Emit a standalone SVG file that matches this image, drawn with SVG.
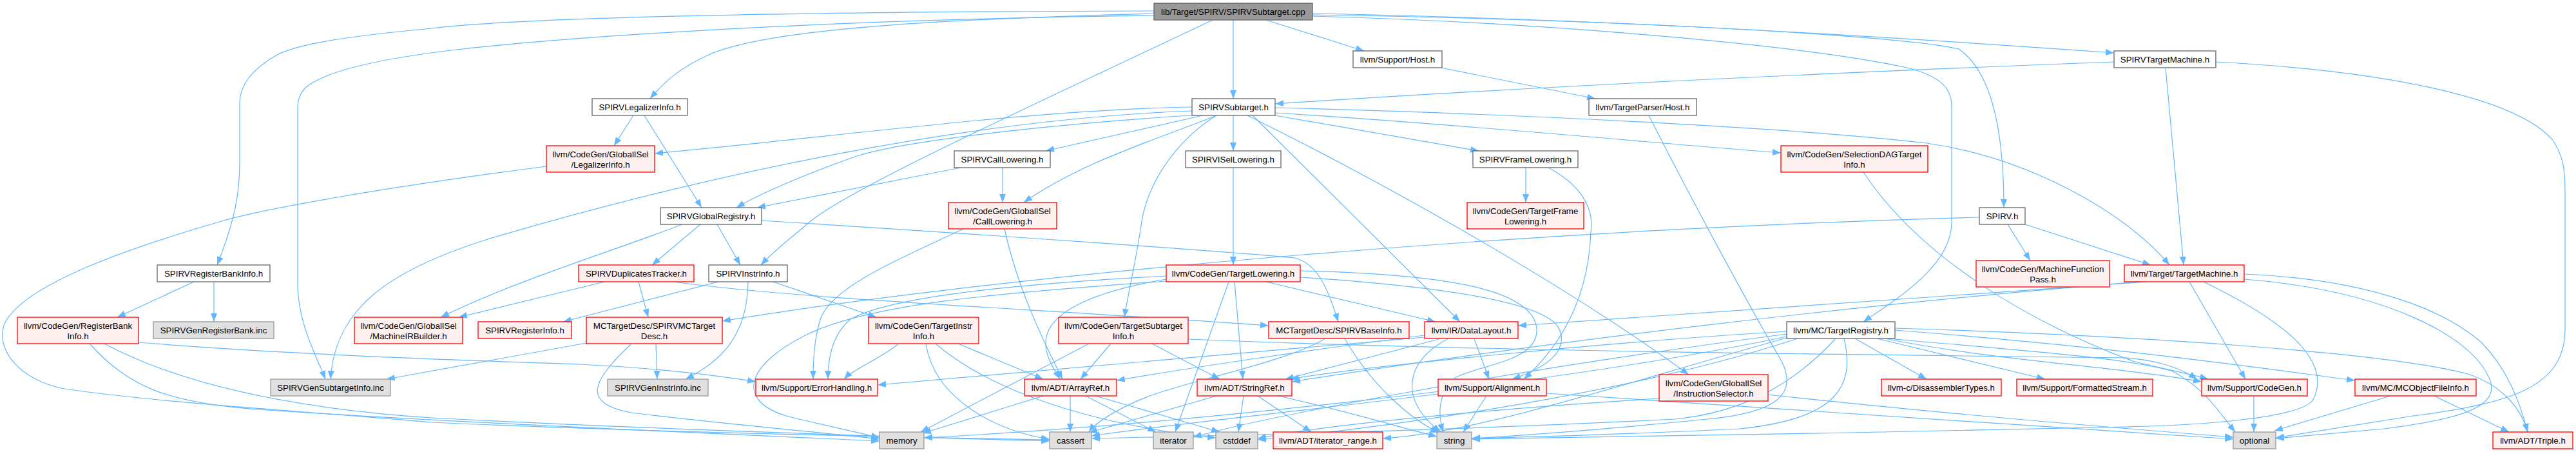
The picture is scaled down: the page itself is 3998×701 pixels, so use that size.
<svg xmlns="http://www.w3.org/2000/svg" width="3998" height="701" viewBox="0 0 3998 701">
<style>
.w{fill:#fff;stroke:#666;stroke-width:1.3}
.r{fill:#fff0f0;stroke:#f00;stroke-width:1.3}
.g{fill:#e0e0e0;stroke:#999;stroke-width:1.3}
.root{fill:#999;stroke:#666;stroke-width:1.3}
text{font-family:"Liberation Sans",Arial,Helvetica,sans-serif;font-size:13.33px;fill:#000;text-anchor:middle}
#edges path{fill:none;stroke:#63b8ff;stroke-width:1.2;marker-end:url(#a)}
</style>
<defs>
<marker id="a" markerUnits="userSpaceOnUse" markerWidth="14" markerHeight="11" refX="13" refY="5" orient="auto">
<path d="M0,0 L13,5 L0,10 z" fill="#63b8ff" stroke="none"/>
</marker>
</defs>
<rect width="3998" height="701" fill="#fff"/>
<g id="edges">
<path d="M1914,31 L1914,153"/>
<path d="M1791,21 C1450,30 1190,45 1100,85 C1055,105 1030,128 1009,153"/>
<path d="M1791,17 C1200,18 800,28 670,44 C520,58 460,70 430,85 C395,105 372,130 372,160 L372,250 C372,300 365,340 337,411"/>
<path d="M1791,24 C1300,30 900,55 700,78 C560,95 500,115 475,135 C465,145 462,155 462,170 L462,440 C462,500 490,550 505,588"/>
<path d="M1882,31 C1600,165 1300,300 1250,350 C1220,375 1200,390 1181,411"/>
<path d="M1965,31 L2117,79"/>
<path d="M2037,21 C2500,30 2900,55 3281,82"/>
<path d="M2037,23 C2500,30 2950,55 3040,76 C3090,110 3110,200 3110,322"/>
<path d="M2037,25 C2400,35 2800,70 2960,105 C3010,118 3029,135 3029,165 L3029,345 C3029,410 2950,460 2892,499"/>
<path d="M1850,166 C1600,170 1300,212 1016,238"/>
<path d="M1850,172 C1500,185 1100,270 760,370 C600,420 520,480 513,588"/>
<path d="M1860,178 C1600,195 1400,220 1330,242 C1250,270 1180,300 1143,322"/>
<path d="M1867,179 L1623,234"/>
<path d="M1888,179 C1800,215 1680,250 1589,314"/>
<path d="M1888,179 C1830,215 1780,280 1771,350 C1762,410 1750,460 1745,492"/>
<path d="M1914,179 L1914,234"/>
<path d="M1979,179 L2295,234"/>
<path d="M1979,175 C2300,195 2600,225 2764,237"/>
<path d="M1979,167 C2400,178 2800,200 2990,222 C3150,245 3300,330 3367,411"/>
<path d="M1944,179 L2266,499"/>
<path d="M1936,179 C2100,260 2400,420 2621,581"/>
<path d="M3281,96 C2700,118 2300,140 1979,161"/>
<path d="M3361,105 L3389,411"/>
<path d="M3439,96 C3700,110 3900,150 3960,215 C3978,240 3981,260 3981,300 L3981,510 C3981,600 3900,625 3745,645 C3650,660 3580,672 3532,679"/>
<path d="M983,179 L953,226"/>
<path d="M1000,179 L1089,322"/>
<path d="M1556,260 L1556,314"/>
<path d="M1491,260 L1175,322"/>
<path d="M1914,260 L1914,411"/>
<path d="M2368,260 L2368,314"/>
<path d="M2403,260 C2450,285 2475,320 2469,360 C2466,440 2440,520 2365,588"/>
<path d="M2236,105 L2476,153"/>
<path d="M2559,179 C2600,260 2700,450 2765,560 C2790,610 2760,640 2650,650 C2500,665 2350,676 2284,680"/>
<path d="M301,437 L182,492"/>
<path d="M332,437 L332,499"/>
<path d="M1059,348 C950,390 800,435 684,492"/>
<path d="M1087,348 L1012,411"/>
<path d="M1113,348 L1149,411"/>
<path d="M1182,342 C1550,365 1900,390 2010,400 C2045,410 2060,445 2077,499"/>
<path d="M938,437 L712,492"/>
<path d="M991,437 L1006,492"/>
<path d="M1045,437 C1250,465 1600,478 1969,505"/>
<path d="M1115,437 L874,499"/>
<path d="M1161,437 C1160,520 1120,560 1064,588"/>
<path d="M1200,437 L1360,492"/>
<path d="M3072,337 C2400,355 1600,420 1121,498"/>
<path d="M3116,348 L3151,404"/>
<path d="M3143,348 L3338,411"/>
<path d="M1018,533 L1020,588"/>
<path d="M910,532 L600,588"/>
<path d="M980,533 C920,590 900,625 980,640 C1100,655 1250,668 1365,681"/>
<path d="M215,531 C450,550 700,558 900,565 C1000,570 1100,580 1173,592"/>
<path d="M139,533 C200,600 260,625 400,635 C700,655 1100,672 1365,684"/>
<path d="M162,533 C250,580 400,630 670,648 C1000,665 1400,678 1629,684"/>
<path d="M848,258 C600,290 400,325 337,345 C200,385 40,440 8,500 C-10,540 30,590 100,603 C250,625 500,640 670,655 C1000,670 1400,678 1629,682"/>
<path d="M1559,355 C1580,450 1620,530 1649,588"/>
<path d="M1495,355 C1400,400 1300,440 1275,490 C1264,520 1262,555 1262,588"/>
<path d="M1810,433 C1680,455 1625,490 1623,530 C1622,555 1638,575 1645,588"/>
<path d="M1810,428 C1550,442 1380,462 1320,495 C1290,520 1285,560 1285,588"/>
<path d="M1810,436 C1550,455 1350,470 1250,520 C1160,565 1140,620 1220,645 C1280,660 1330,670 1365,679"/>
<path d="M1907,437 L1824,670"/>
<path d="M1916,437 L1929,588"/>
<path d="M1965,437 L2228,499"/>
<path d="M2018,420 C2250,425 2380,450 2385,510 C2388,560 2300,565 2260,585 C2230,610 2232,645 2240,670"/>
<path d="M2018,430 C2250,445 2400,470 2420,510 C2435,545 2400,570 2347,588"/>
<path d="M1395,533 C1360,560 1325,572 1310,588"/>
<path d="M1437,533 C1450,620 1550,670 1629,681"/>
<path d="M1452,533 C1560,625 1750,665 1887,679"/>
<path d="M1487,533 L1619,588"/>
<path d="M1690,533 L1429,670"/>
<path d="M1724,533 L1677,588"/>
<path d="M1788,533 L1893,588"/>
<path d="M1844,526 C2300,545 2900,550 3300,555 C3360,560 3390,575 3410,588"/>
<path d="M1619,614 L1432,672"/>
<path d="M1661,614 L1661,670"/>
<path d="M1685,614 L1794,670"/>
<path d="M1700,614 L1893,670"/>
<path d="M1888,614 L1690,671"/>
<path d="M1930,614 L1922,670"/>
<path d="M1952,614 L2035,670"/>
<path d="M1984,614 C2100,640 2180,665 2230,677"/>
<path d="M2237,525 L1995,588"/>
<path d="M2288,525 L2311,588"/>
<path d="M2248,525 C2180,560 2170,620 2236,670"/>
<path d="M2211,520 C2050,540 1850,570 1733,590"/>
<path d="M2211,523 C1900,550 1550,580 1362,597"/>
<path d="M2307,614 L2271,670"/>
<path d="M2232,611 C2000,640 1800,660 1694,676"/>
<path d="M2400,610 C2800,640 3200,665 3466,681"/>
<path d="M2575,618 C2300,635 2050,660 1952,680"/>
<path d="M2744,612 C3000,640 3300,665 3466,678"/>
<path d="M2892,267 C2980,400 3150,500 3310,560 C3370,575 3400,580 3427,588"/>
<path d="M2879,525 L2990,588"/>
<path d="M2913,525 L3174,588"/>
<path d="M2925,525 C3100,560 3300,570 3417,592"/>
<path d="M2941,512 C3300,540 3500,570 3655,590"/>
<path d="M2941,509 C3300,520 3700,545 3830,580 C3890,600 3915,640 3923,670"/>
<path d="M2930,525 C3150,545 3300,555 3370,575 C3420,600 3445,640 3469,670"/>
<path d="M2773,514 C2500,530 2100,570 2003,588"/>
<path d="M2862,525 C2880,600 2850,650 2700,665 C2500,675 2350,678 2284,680"/>
<path d="M2849,525 C2780,600 2700,640 2600,650 C2200,670 1900,675 1694,680"/>
<path d="M2773,522 C2400,600 1800,660 1434,679"/>
<path d="M2773,518 C2300,580 1950,650 1852,678"/>
<path d="M2773,524 C2500,600 2300,670 2146,680"/>
<path d="M2790,525 C2500,620 2100,668 1952,682"/>
<path d="M3331,437 C3000,460 2600,490 2356,505"/>
<path d="M3322,437 C2900,470 2400,530 2005,592"/>
<path d="M3398,437 L3485,588"/>
<path d="M3483,425 C3650,432 3780,470 3850,530 C3890,570 3910,620 3923,670"/>
<path d="M3483,433 C3700,450 3830,520 3860,580 C3890,630 3820,650 3700,665 C3620,672 3570,677 3532,680"/>
<path d="M3420,437 C3550,500 3620,560 3590,620 C3570,650 3400,660 3300,662 C3000,670 2500,677 2284,681"/>
<path d="M3710,614 L3530,668"/>
<path d="M3778,614 L3894,670"/>
<path d="M3498,614 L3498,670"/>
<path d="M2057,525 C2000,560 1850,590 1790,612 C1740,630 1700,655 1690,670"/>
<path d="M2087,525 C2130,600 2190,650 2233,671"/>
</g>
<g id="node-root"><rect class="root" x="1791" y="5" width="246" height="26"/><text x="1914" y="22.8">lib/Target/SPIRV/SPIRVSubtarget.cpp</text></g>
<g id="node-SPIRVSubtarget"><rect class="w" x="1850" y="153" width="129" height="26"/><text x="1914.5" y="170.8">SPIRVSubtarget.h</text></g>
<g id="node-SPIRVLegalizerInfo"><rect class="w" x="919" y="153" width="148" height="26"/><text x="993" y="170.8">SPIRVLegalizerInfo.h</text></g>
<g id="node-LegalizerInfo"><rect class="r" x="848" y="226" width="168" height="41"/><text x="932" y="243.8">llvm/CodeGen/GlobalISel</text><text x="932" y="259.8">/LegalizerInfo.h</text></g>
<g id="node-SPIRVGlobalRegistry"><rect class="w" x="1025" y="322" width="157" height="26"/><text x="1103.5" y="339.8">SPIRVGlobalRegistry.h</text></g>
<g id="node-SPIRVCallLowering"><rect class="w" x="1481" y="234" width="149" height="26"/><text x="1555.5" y="251.8">SPIRVCallLowering.h</text></g>
<g id="node-SPIRVISelLowering"><rect class="w" x="1840" y="234" width="148" height="26"/><text x="1914" y="251.8">SPIRVISelLowering.h</text></g>
<g id="node-CallLowering"><rect class="r" x="1472" y="314" width="168" height="41"/><text x="1556" y="331.8">llvm/CodeGen/GlobalISel</text><text x="1556" y="347.8">/CallLowering.h</text></g>
<g id="node-SupportHost"><rect class="w" x="2100" y="79" width="138" height="26"/><text x="2169" y="96.8">llvm/Support/Host.h</text></g>
<g id="node-TargetParserHost"><rect class="w" x="2466" y="153" width="167" height="26"/><text x="2549.5" y="170.8">llvm/TargetParser/Host.h</text></g>
<g id="node-SPIRVFrameLowering"><rect class="w" x="2286" y="234" width="163" height="26"/><text x="2367.5" y="251.8">SPIRVFrameLowering.h</text></g>
<g id="node-TargetFrameLowering"><rect class="r" x="2277" y="314" width="181" height="41"/><text x="2367.5" y="331.8">llvm/CodeGen/TargetFrame</text><text x="2367.5" y="347.8">Lowering.h</text></g>
<g id="node-SelectionDAGTargetInfo"><rect class="r" x="2764" y="226" width="228" height="41"/><text x="2878" y="243.8">llvm/CodeGen/SelectionDAGTarget</text><text x="2878" y="259.8">Info.h</text></g>
<g id="node-SPIRVTargetMachine"><rect class="w" x="3281" y="79" width="158" height="26"/><text x="3360" y="96.8">SPIRVTargetMachine.h</text></g>
<g id="node-SPIRV"><rect class="w" x="3072" y="322" width="71" height="26"/><text x="3107.5" y="339.8">SPIRV.h</text></g>
<g id="node-SPIRVRegisterBankInfo"><rect class="w" x="244" y="411" width="175" height="26"/><text x="331.5" y="428.8">SPIRVRegisterBankInfo.h</text></g>
<g id="node-RegisterBankInfo"><rect class="r" x="27" y="492" width="188" height="41"/><text x="121" y="509.8">llvm/CodeGen/RegisterBank</text><text x="121" y="525.8">Info.h</text></g>
<g id="node-SPIRVGenRegisterBank"><rect class="g" x="238" y="499" width="187" height="26"/><text x="331.5" y="516.8">SPIRVGenRegisterBank.inc</text></g>
<g id="node-SPIRVGenSubtargetInfo"><rect class="g" x="420" y="588" width="186" height="26"/><text x="513" y="605.8">SPIRVGenSubtargetInfo.inc</text></g>
<g id="node-MachineIRBuilder"><rect class="r" x="550" y="492" width="168" height="41"/><text x="634" y="509.8">llvm/CodeGen/GlobalISel</text><text x="634" y="525.8">/MachineIRBuilder.h</text></g>
<g id="node-SPIRVDuplicatesTracker"><rect class="r" x="898" y="411" width="179" height="26"/><text x="987.5" y="428.8">SPIRVDuplicatesTracker.h</text></g>
<g id="node-SPIRVInstrInfo"><rect class="w" x="1100" y="411" width="122" height="26"/><text x="1161" y="428.8">SPIRVInstrInfo.h</text></g>
<g id="node-SPIRVRegisterInfo"><rect class="r" x="742" y="499" width="145" height="26"/><text x="814.5" y="516.8">SPIRVRegisterInfo.h</text></g>
<g id="node-SPIRVMCTargetDesc"><rect class="r" x="910" y="492" width="211" height="41"/><text x="1015.5" y="509.8">MCTargetDesc/SPIRVMCTarget</text><text x="1015.5" y="525.8">Desc.h</text></g>
<g id="node-SPIRVGenInstrInfo"><rect class="g" x="943" y="588" width="156" height="26"/><text x="1021" y="605.8">SPIRVGenInstrInfo.inc</text></g>
<g id="node-ErrorHandling"><rect class="r" x="1173" y="588" width="189" height="26"/><text x="1267.5" y="605.8">llvm/Support/ErrorHandling.h</text></g>
<g id="node-TargetLowering"><rect class="r" x="1810" y="411" width="208" height="26"/><text x="1914" y="428.8">llvm/CodeGen/TargetLowering.h</text></g>
<g id="node-TargetInstrInfo"><rect class="r" x="1348" y="492" width="171" height="41"/><text x="1433.5" y="509.8">llvm/CodeGen/TargetInstr</text><text x="1433.5" y="525.8">Info.h</text></g>
<g id="node-TargetSubtargetInfo"><rect class="r" x="1643" y="492" width="201" height="41"/><text x="1743.5" y="509.8">llvm/CodeGen/TargetSubtarget</text><text x="1743.5" y="525.8">Info.h</text></g>
<g id="node-SPIRVBaseInfo"><rect class="r" x="1969" y="499" width="218" height="26"/><text x="2078" y="516.8">MCTargetDesc/SPIRVBaseInfo.h</text></g>
<g id="node-ArrayRef"><rect class="r" x="1590" y="588" width="143" height="26"/><text x="1661.5" y="605.8">llvm/ADT/ArrayRef.h</text></g>
<g id="node-StringRef"><rect class="r" x="1858" y="588" width="147" height="26"/><text x="1931.5" y="605.8">llvm/ADT/StringRef.h</text></g>
<g id="node-memory"><rect class="g" x="1365" y="670" width="69" height="26"/><text x="1399.5" y="687.8">memory</text></g>
<g id="node-cassert"><rect class="g" x="1629" y="670" width="65" height="26"/><text x="1661.5" y="687.8">cassert</text></g>
<g id="node-iterator"><rect class="g" x="1790" y="670" width="62" height="26"/><text x="1821" y="687.8">iterator</text></g>
<g id="node-cstddef"><rect class="g" x="1887" y="670" width="65" height="26"/><text x="1919.5" y="687.8">cstddef</text></g>
<g id="node-iterator_range"><rect class="r" x="1976" y="670" width="170" height="26"/><text x="2061" y="687.8">llvm/ADT/iterator_range.h</text></g>
<g id="node-DataLayout"><rect class="r" x="2211" y="499" width="145" height="26"/><text x="2283.5" y="516.8">llvm/IR/DataLayout.h</text></g>
<g id="node-Alignment"><rect class="r" x="2232" y="588" width="168" height="26"/><text x="2316" y="605.8">llvm/Support/Alignment.h</text></g>
<g id="node-string"><rect class="g" x="2230" y="670" width="54" height="26"/><text x="2257" y="687.8">string</text></g>
<g id="node-InstructionSelector"><rect class="r" x="2575" y="581" width="169" height="41"/><text x="2659.5" y="598.8">llvm/CodeGen/GlobalISel</text><text x="2659.5" y="614.8">/InstructionSelector.h</text></g>
<g id="node-MachineFunctionPass"><rect class="r" x="3067" y="404" width="207" height="41"/><text x="3170.5" y="421.8">llvm/CodeGen/MachineFunction</text><text x="3170.5" y="437.8">Pass.h</text></g>
<g id="node-TargetRegistry"><rect class="w" x="2773" y="499" width="168" height="26"/><text x="2857" y="516.8">llvm/MC/TargetRegistry.h</text></g>
<g id="node-DisassemblerTypes"><rect class="r" x="2920" y="588" width="186" height="26"/><text x="3013" y="605.8">llvm-c/DisassemblerTypes.h</text></g>
<g id="node-FormattedStream"><rect class="r" x="3130" y="588" width="211" height="26"/><text x="3235.5" y="605.8">llvm/Support/FormattedStream.h</text></g>
<g id="node-TargetMachine"><rect class="r" x="3297" y="411" width="186" height="26"/><text x="3390" y="428.8">llvm/Target/TargetMachine.h</text></g>
<g id="node-CodeGen"><rect class="r" x="3417" y="588" width="164" height="26"/><text x="3499" y="605.8">llvm/Support/CodeGen.h</text></g>
<g id="node-MCObjectFileInfo"><rect class="r" x="3655" y="588" width="188" height="26"/><text x="3749" y="605.8">llvm/MC/MCObjectFileInfo.h</text></g>
<g id="node-optional"><rect class="g" x="3466" y="670" width="66" height="26"/><text x="3499" y="687.8">optional</text></g>
<g id="node-Triple"><rect class="r" x="3869" y="670" width="124" height="26"/><text x="3931" y="687.8">llvm/ADT/Triple.h</text></g>
</svg>
